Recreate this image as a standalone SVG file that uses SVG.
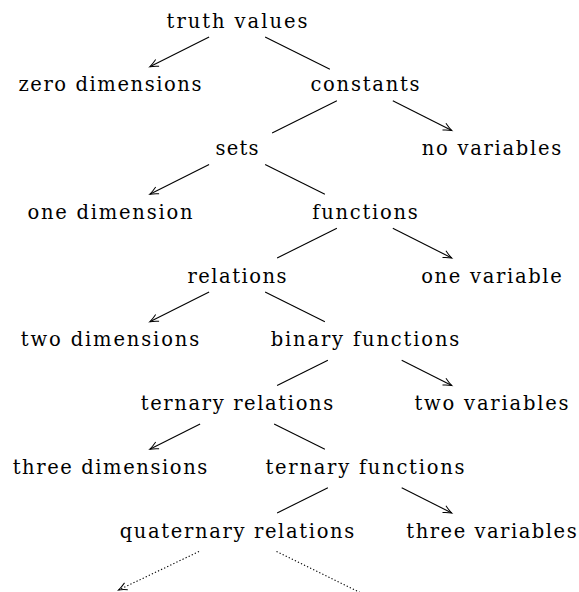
<svg xmlns="http://www.w3.org/2000/svg" width="579" height="592" viewBox="0 0 579 592">
<style>
text{font-family:"DejaVu Serif","Liberation Serif",serif;font-size:19.5px;fill:#000;text-anchor:middle}
.e{stroke:#000;stroke-width:1.1;fill:none}
.a{marker-end:url(#tip)}
.d{stroke-dasharray:1.3 2.1}
</style>
<defs>
<marker id="tip" markerUnits="userSpaceOnUse" markerWidth="14" markerHeight="12" viewBox="-10 -6 12 12" refX="0" refY="0" orient="auto" overflow="visible">
<path d="M-8.5,-3.8 Q-3.5,-1 0,0 Q-3.5,1 -8.5,3.8" fill="none" stroke="#000" stroke-width="1"/>
</marker>
</defs>
<rect width="579" height="592" fill="#fff"/>
<g id="connectors">
<line class="e a" x1="209.1" y1="37" x2="149.8" y2="66.75"/>
<line class="e" x1="265.1" y1="37" x2="329.9" y2="69.25"/>
<line class="e" x1="336.9" y1="100.75" x2="272.1" y2="133"/>
<line class="e a" x1="392.8" y1="100.75" x2="451.8" y2="130.5"/>
<line class="e a" x1="209.1" y1="164.5" x2="149.8" y2="194.25"/>
<line class="e" x1="265.1" y1="164.5" x2="324.9" y2="194.25"/>
<line class="e" x1="336.9" y1="228.25" x2="277.1" y2="258"/>
<line class="e a" x1="392.8" y1="228.25" x2="451.8" y2="258"/>
<line class="e a" x1="209.1" y1="292" x2="149.8" y2="321.75"/>
<line class="e" x1="265.1" y1="292" x2="324.9" y2="321.75"/>
<line class="e" x1="327.9" y1="360.25" x2="277.1" y2="385.5"/>
<line class="e a" x1="401.7" y1="360.25" x2="451.8" y2="385.5"/>
<line class="e a" x1="200.1" y1="424" x2="149.8" y2="449.25"/>
<line class="e" x1="274.1" y1="424" x2="324.9" y2="449.25"/>
<line class="e" x1="327.9" y1="487.75" x2="277.1" y2="513"/>
<line class="e a" x1="401.7" y1="487.75" x2="451.8" y2="513"/>
<line class="e a d" x1="199" y1="551.5" x2="118.5" y2="590"/>
<line class="e d" x1="276.5" y1="551.5" x2="361" y2="593"/>
</g>
<g id="truth-values"><text x="237" y="27.5" textLength="140.8" lengthAdjust="spacing">truth values</text></g>
<g id="zero-dimensions"><text x="110" y="91.25" textLength="183" lengthAdjust="spacing">zero dimensions</text></g>
<g id="constants"><text x="365" y="91.25" textLength="109.2" lengthAdjust="spacing">constants</text></g>
<g id="sets"><text x="237" y="155" textLength="43" lengthAdjust="spacing">sets</text></g>
<g id="no-variables"><text x="491.5" y="155" textLength="139.4" lengthAdjust="spacing">no variables</text></g>
<g id="one-dimension"><text x="110" y="218.75" textLength="165" lengthAdjust="spacing">one dimension</text></g>
<g id="functions"><text x="365" y="218.75" textLength="105.4" lengthAdjust="spacing">functions</text></g>
<g id="relations"><text x="237" y="282.5" textLength="98.9" lengthAdjust="spacing">relations</text></g>
<g id="one-variable"><text x="491.5" y="282.5" textLength="140.7" lengthAdjust="spacing">one variable</text></g>
<g id="two-dimensions"><text x="110" y="346.25" textLength="178.4" lengthAdjust="spacing">two dimensions</text></g>
<g id="binary-functions"><text x="365" y="346.25" textLength="188.7" lengthAdjust="spacing">binary functions</text></g>
<g id="ternary-relations"><text x="237" y="410" textLength="192.5" lengthAdjust="spacing">ternary relations</text></g>
<g id="two-variables"><text x="491.5" y="410" textLength="154" lengthAdjust="spacing">two variables</text></g>
<g id="three-dimensions"><text x="110" y="473.75" textLength="194.7" lengthAdjust="spacing">three dimensions</text></g>
<g id="ternary-functions"><text x="365" y="473.75" textLength="199" lengthAdjust="spacing">ternary functions</text></g>
<g id="quaternary-relations"><text x="237" y="537.5" textLength="234.5" lengthAdjust="spacing">quaternary relations</text></g>
<g id="three-variables"><text x="491.5" y="537.5" textLength="170.3" lengthAdjust="spacing">three variables</text></g>
</svg>
